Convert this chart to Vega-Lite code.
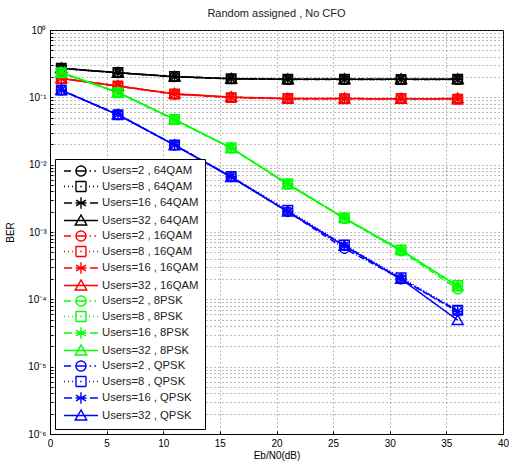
{
  "$schema": "https://vega.github.io/schema/vega-lite/v6.json",
  "width": 453,
  "height": 404,
  "autosize": "none",
  "padding": {"left": 50, "top": 30, "right": 6, "bottom": 29},
  "background": "white",
  "config": {
    "font": "Liberation Sans",
    "view": {"stroke": "black", "strokeWidth": 1},
    "axis": {
      "labelFont": "Liberation Sans",
      "titleFont": "Liberation Sans",
      "labelFontSize": 10,
      "titleFontSize": 10,
      "titleFontWeight": "normal",
      "labelColor": "black",
      "titleColor": "black",
      "domainColor": "black",
      "tickColor": "black",
      "gridColor": "#555",
      "gridDash": [1, 3],
      "gridWidth": 1,
      "gridOpacity": 0.8,
      "ticks": true,
      "tickSize": -3
    },
    "legend": {
      "labelFont": "Liberation Sans",
      "labelFontSize": 11.3,
      "labelColor": "#222"
    }
  },
  "title": {
    "text": "Random assigned , No CFO",
    "fontSize": 11,
    "fontWeight": "normal",
    "font": "Liberation Sans",
    "color": "#222",
    "offset": 6
  },
  "data": {
    "values": [
      {"s": "Users=2 , 64QAM", "u": "2", "x": 1, "y": 0.268}, {"s": "Users=2 , 64QAM", "u": "2", "x": 6, "y": 0.231}, {"s": "Users=2 , 64QAM", "u": "2", "x": 11, "y": 0.202}, {"s": "Users=2 , 64QAM", "u": "2", "x": 16, "y": 0.188}, {"s": "Users=2 , 64QAM", "u": "2", "x": 21, "y": 0.184}, {"s": "Users=2 , 64QAM", "u": "2", "x": 26, "y": 0.184}, {"s": "Users=2 , 64QAM", "u": "2", "x": 31, "y": 0.185}, {"s": "Users=2 , 64QAM", "u": "2", "x": 36, "y": 0.184},
      {"s": "Users=8 , 64QAM", "u": "8", "x": 1, "y": 0.270}, {"s": "Users=8 , 64QAM", "u": "8", "x": 6, "y": 0.233}, {"s": "Users=8 , 64QAM", "u": "8", "x": 11, "y": 0.204}, {"s": "Users=8 , 64QAM", "u": "8", "x": 16, "y": 0.189}, {"s": "Users=8 , 64QAM", "u": "8", "x": 21, "y": 0.185}, {"s": "Users=8 , 64QAM", "u": "8", "x": 26, "y": 0.185}, {"s": "Users=8 , 64QAM", "u": "8", "x": 31, "y": 0.184}, {"s": "Users=8 , 64QAM", "u": "8", "x": 36, "y": 0.185},
      {"s": "Users=16 , 64QAM", "u": "16", "x": 1, "y": 0.269}, {"s": "Users=16 , 64QAM", "u": "16", "x": 6, "y": 0.232}, {"s": "Users=16 , 64QAM", "u": "16", "x": 11, "y": 0.203}, {"s": "Users=16 , 64QAM", "u": "16", "x": 16, "y": 0.190}, {"s": "Users=16 , 64QAM", "u": "16", "x": 21, "y": 0.186}, {"s": "Users=16 , 64QAM", "u": "16", "x": 26, "y": 0.185}, {"s": "Users=16 , 64QAM", "u": "16", "x": 31, "y": 0.186}, {"s": "Users=16 , 64QAM", "u": "16", "x": 36, "y": 0.185},
      {"s": "Users=32 , 64QAM", "u": "32", "x": 1, "y": 0.271}, {"s": "Users=32 , 64QAM", "u": "32", "x": 6, "y": 0.232}, {"s": "Users=32 , 64QAM", "u": "32", "x": 11, "y": 0.203}, {"s": "Users=32 , 64QAM", "u": "32", "x": 16, "y": 0.189}, {"s": "Users=32 , 64QAM", "u": "32", "x": 21, "y": 0.185}, {"s": "Users=32 , 64QAM", "u": "32", "x": 26, "y": 0.186}, {"s": "Users=32 , 64QAM", "u": "32", "x": 31, "y": 0.185}, {"s": "Users=32 , 64QAM", "u": "32", "x": 36, "y": 0.186},
      {"s": "Users=2 , 16QAM", "u": "2", "x": 1, "y": 0.190}, {"s": "Users=2 , 16QAM", "u": "2", "x": 6, "y": 0.146}, {"s": "Users=2 , 16QAM", "u": "2", "x": 11, "y": 0.111}, {"s": "Users=2 , 16QAM", "u": "2", "x": 16, "y": 0.100}, {"s": "Users=2 , 16QAM", "u": "2", "x": 21, "y": 0.095}, {"s": "Users=2 , 16QAM", "u": "2", "x": 26, "y": 0.096}, {"s": "Users=2 , 16QAM", "u": "2", "x": 31, "y": 0.095}, {"s": "Users=2 , 16QAM", "u": "2", "x": 36, "y": 0.095},
      {"s": "Users=8 , 16QAM", "u": "8", "x": 1, "y": 0.191}, {"s": "Users=8 , 16QAM", "u": "8", "x": 6, "y": 0.147}, {"s": "Users=8 , 16QAM", "u": "8", "x": 11, "y": 0.112}, {"s": "Users=8 , 16QAM", "u": "8", "x": 16, "y": 0.099}, {"s": "Users=8 , 16QAM", "u": "8", "x": 21, "y": 0.096}, {"s": "Users=8 , 16QAM", "u": "8", "x": 26, "y": 0.095}, {"s": "Users=8 , 16QAM", "u": "8", "x": 31, "y": 0.096}, {"s": "Users=8 , 16QAM", "u": "8", "x": 36, "y": 0.094},
      {"s": "Users=16 , 16QAM", "u": "16", "x": 1, "y": 0.192}, {"s": "Users=16 , 16QAM", "u": "16", "x": 6, "y": 0.148}, {"s": "Users=16 , 16QAM", "u": "16", "x": 11, "y": 0.112}, {"s": "Users=16 , 16QAM", "u": "16", "x": 16, "y": 0.100}, {"s": "Users=16 , 16QAM", "u": "16", "x": 21, "y": 0.095}, {"s": "Users=16 , 16QAM", "u": "16", "x": 26, "y": 0.095}, {"s": "Users=16 , 16QAM", "u": "16", "x": 31, "y": 0.095}, {"s": "Users=16 , 16QAM", "u": "16", "x": 36, "y": 0.095},
      {"s": "Users=32 , 16QAM", "u": "32", "x": 1, "y": 0.190}, {"s": "Users=32 , 16QAM", "u": "32", "x": 6, "y": 0.147}, {"s": "Users=32 , 16QAM", "u": "32", "x": 11, "y": 0.113}, {"s": "Users=32 , 16QAM", "u": "32", "x": 16, "y": 0.101}, {"s": "Users=32 , 16QAM", "u": "32", "x": 21, "y": 0.096}, {"s": "Users=32 , 16QAM", "u": "32", "x": 26, "y": 0.096}, {"s": "Users=32 , 16QAM", "u": "32", "x": 31, "y": 0.095}, {"s": "Users=32 , 16QAM", "u": "32", "x": 36, "y": 0.096},
      {"s": "Users=2 , 8PSK", "u": "2", "x": 1, "y": 0.231}, {"s": "Users=2 , 8PSK", "u": "2", "x": 6, "y": 0.118}, {"s": "Users=2 , 8PSK", "u": "2", "x": 11, "y": 0.047}, {"s": "Users=2 , 8PSK", "u": "2", "x": 16, "y": 0.0176}, {"s": "Users=2 , 8PSK", "u": "2", "x": 21, "y": 0.0051}, {"s": "Users=2 , 8PSK", "u": "2", "x": 26, "y": 0.00158}, {"s": "Users=2 , 8PSK", "u": "2", "x": 31, "y": 0.00052}, {"s": "Users=2 , 8PSK", "u": "2", "x": 36, "y": 0.000142},
      {"s": "Users=8 , 8PSK", "u": "8", "x": 1, "y": 0.232}, {"s": "Users=8 , 8PSK", "u": "8", "x": 6, "y": 0.117}, {"s": "Users=8 , 8PSK", "u": "8", "x": 11, "y": 0.047}, {"s": "Users=8 , 8PSK", "u": "8", "x": 16, "y": 0.0178}, {"s": "Users=8 , 8PSK", "u": "8", "x": 21, "y": 0.0052}, {"s": "Users=8 , 8PSK", "u": "8", "x": 26, "y": 0.00162}, {"s": "Users=8 , 8PSK", "u": "8", "x": 31, "y": 0.00054}, {"s": "Users=8 , 8PSK", "u": "8", "x": 36, "y": 0.000160},
      {"s": "Users=16 , 8PSK", "u": "16", "x": 1, "y": 0.233}, {"s": "Users=16 , 8PSK", "u": "16", "x": 6, "y": 0.118}, {"s": "Users=16 , 8PSK", "u": "16", "x": 11, "y": 0.046}, {"s": "Users=16 , 8PSK", "u": "16", "x": 16, "y": 0.0177}, {"s": "Users=16 , 8PSK", "u": "16", "x": 21, "y": 0.0052}, {"s": "Users=16 , 8PSK", "u": "16", "x": 26, "y": 0.00160}, {"s": "Users=16 , 8PSK", "u": "16", "x": 31, "y": 0.00053}, {"s": "Users=16 , 8PSK", "u": "16", "x": 36, "y": 0.000158},
      {"s": "Users=32 , 8PSK", "u": "32", "x": 1, "y": 0.232}, {"s": "Users=32 , 8PSK", "u": "32", "x": 6, "y": 0.119}, {"s": "Users=32 , 8PSK", "u": "32", "x": 11, "y": 0.047}, {"s": "Users=32 , 8PSK", "u": "32", "x": 16, "y": 0.0176}, {"s": "Users=32 , 8PSK", "u": "32", "x": 21, "y": 0.0051}, {"s": "Users=32 , 8PSK", "u": "32", "x": 26, "y": 0.00161}, {"s": "Users=32 , 8PSK", "u": "32", "x": 31, "y": 0.00054}, {"s": "Users=32 , 8PSK", "u": "32", "x": 36, "y": 0.000155},
      {"s": "Users=2 , QPSK", "u": "2", "x": 1, "y": 0.128}, {"s": "Users=2 , QPSK", "u": "2", "x": 6, "y": 0.055}, {"s": "Users=2 , QPSK", "u": "2", "x": 11, "y": 0.0195}, {"s": "Users=2 , QPSK", "u": "2", "x": 16, "y": 0.0066}, {"s": "Users=2 , QPSK", "u": "2", "x": 21, "y": 0.0020}, {"s": "Users=2 , QPSK", "u": "2", "x": 26, "y": 0.00057}, {"s": "Users=2 , QPSK", "u": "2", "x": 31, "y": 0.00020}, {"s": "Users=2 , QPSK", "u": "2", "x": 36, "y": 0.000068},
      {"s": "Users=8 , QPSK", "u": "8", "x": 1, "y": 0.129}, {"s": "Users=8 , QPSK", "u": "8", "x": 6, "y": 0.055}, {"s": "Users=8 , QPSK", "u": "8", "x": 11, "y": 0.0196}, {"s": "Users=8 , QPSK", "u": "8", "x": 16, "y": 0.0067}, {"s": "Users=8 , QPSK", "u": "8", "x": 21, "y": 0.0021}, {"s": "Users=8 , QPSK", "u": "8", "x": 26, "y": 0.00064}, {"s": "Users=8 , QPSK", "u": "8", "x": 31, "y": 0.00021}, {"s": "Users=8 , QPSK", "u": "8", "x": 36, "y": 0.000069},
      {"s": "Users=16 , QPSK", "u": "16", "x": 1, "y": 0.128}, {"s": "Users=16 , QPSK", "u": "16", "x": 6, "y": 0.056}, {"s": "Users=16 , QPSK", "u": "16", "x": 11, "y": 0.0197}, {"s": "Users=16 , QPSK", "u": "16", "x": 16, "y": 0.0066}, {"s": "Users=16 , QPSK", "u": "16", "x": 21, "y": 0.0020}, {"s": "Users=16 , QPSK", "u": "16", "x": 26, "y": 0.00063}, {"s": "Users=16 , QPSK", "u": "16", "x": 31, "y": 0.00020}, {"s": "Users=16 , QPSK", "u": "16", "x": 36, "y": 0.000066},
      {"s": "Users=32 , QPSK", "u": "32", "x": 1, "y": 0.127}, {"s": "Users=32 , QPSK", "u": "32", "x": 6, "y": 0.055}, {"s": "Users=32 , QPSK", "u": "32", "x": 11, "y": 0.0195}, {"s": "Users=32 , QPSK", "u": "32", "x": 16, "y": 0.0065}, {"s": "Users=32 , QPSK", "u": "32", "x": 21, "y": 0.0020}, {"s": "Users=32 , QPSK", "u": "32", "x": 26, "y": 0.00062}, {"s": "Users=32 , QPSK", "u": "32", "x": 31, "y": 0.00020}, {"s": "Users=32 , QPSK", "u": "32", "x": 36, "y": 0.000049}
    ]
  },
  "encoding": {
    "x": {
      "field": "x",
      "type": "quantitative",
      "title": "Eb/N0(dB)",
      "scale": {"domain": [0, 40], "nice": false},
      "axis": {"values": [0, 5, 10, 15, 20, 25, 30, 35, 40], "labelPadding": 7, "titlePadding": 2, "labelFlush": false}
    },
    "y": {
      "field": "y",
      "type": "quantitative",
      "title": "BER",
      "scale": {"type": "log", "domain": [0.000001, 1], "nice": false},
      "axis": {
        "values": [0.000001, 0.000002, 0.000003, 0.000004, 0.000005, 0.000006, 0.000007, 0.000008, 0.000009,
                   0.00001, 0.00002, 0.00003, 0.00004, 0.00005, 0.00006, 0.00007, 0.00008, 0.00009,
                   0.0001, 0.0002, 0.0003, 0.0004, 0.0005, 0.0006, 0.0007, 0.0008, 0.0009,
                   0.001, 0.002, 0.003, 0.004, 0.005, 0.006, 0.007, 0.008, 0.009,
                   0.01, 0.02, 0.03, 0.04, 0.05, 0.06, 0.07, 0.08, 0.09,
                   0.1, 0.2, 0.3, 0.4, 0.5, 0.6, 0.7, 0.8, 0.9, 1],
        "labelExpr": "datum.value == 1 ? '10⁰' : datum.value == 0.1 ? '10⁻¹' : datum.value == 0.01 ? '10⁻²' : datum.value == 0.001 ? '10⁻³' : datum.value == 0.0001 ? '10⁻⁴' : datum.value == 0.00001 ? '10⁻⁵' : datum.value == 0.000001 ? '10⁻⁶' : ''",
        "labelOverlap": false,
        "labelPadding": 7,
        "titlePadding": 12,
        "labelFlush": false
      }
    }
  },
  "layer": [
    {
      "mark": {"type": "line", "strokeWidth": 1.5, "clip": true},
      "encoding": {
        "detail": {"field": "s", "type": "nominal"},
        "color": {
          "field": "s", "type": "nominal", "title": null,
          "scale": {
            "domain": ["Users=2 , 64QAM", "Users=8 , 64QAM", "Users=16 , 64QAM", "Users=32 , 64QAM", "Users=2 , 16QAM", "Users=8 , 16QAM", "Users=16 , 16QAM", "Users=32 , 16QAM", "Users=2 , 8PSK", "Users=8 , 8PSK", "Users=16 , 8PSK", "Users=32 , 8PSK", "Users=2 , QPSK", "Users=8 , QPSK", "Users=16 , QPSK", "Users=32 , QPSK"],
            "range": ["#000000", "#000000", "#000000", "#000000", "#ff0000", "#ff0000", "#ff0000", "#ff0000", "#00ff00", "#00ff00", "#00ff00", "#00ff00", "#0000ff", "#0000ff", "#0000ff", "#0000ff"]
          },
          "legend": {
            "orient": "bottom-left",
            "offset": 5,
            "padding": 6,
            "strokeColor": "black",
            "fillColor": "white",
            "symbolSize": 100,
            "symbolStrokeWidth": 1.4,
            "symbolOffset": 14,
            "labelOffset": 15,
            "rowPadding": -0.5,
            "symbolLimit": 0,
            "encode": {
              "symbols": {
                "update": {
                  "shape": {"signal": "indexof(datum.value, 'Users=2 ') == 0 ? 'M-3.4,0L-2,0M-1,0L1,0M1.7,0L2,0M2.7,0L3,0M-1,0A1,1 0 1,1 1,0A1,1 0 1,1 -1,0' : indexof(datum.value, 'Users=8 ') == 0 ? 'M-3.4,0L-3.2,0M-2.6,0L-2.4,0M-1.8,0L-1.6,0M-0.15,0L0.15,0M1.6,0L1.8,0M2.4,0L2.6,0M3.2,0L3.4,0M-1,-1L1,-1L1,1L-1,1Z' : indexof(datum.value, 'Users=16') == 0 ? 'M-3.4,0L-1.8,0M-1.1,0L1.1,0M1.8,0L3.4,0M0,-1.15L0,1.15M-1,-0.58L1,0.58M-1,0.58L1,-0.58' : 'M-3.4,0L3.4,0M0,-1.1L1.15,0.9L-1.15,0.9Z'"},
                  "strokeDash": {"value": [1, 0]},
                  "fill": {"value": "transparent"},
                  "strokeWidth": {"value": 1.4}
                }
              }
            }
          }
        },
        "strokeDash": {
          "field": "u", "type": "nominal", "legend": null,
          "scale": {
            "domain": ["2", "8", "16", "32"],
            "range": [[6, 2, 1, 2], [1, 2], [6, 3], [1, 0]]
          }
        }
      }
    },
    {
      "mark": {"type": "point", "filled": false, "size": 90, "strokeWidth": 1.5, "opacity": 1, "clip": true},
      "encoding": {
        "color": {"field": "s", "type": "nominal", "title": null},
        "shape": {
          "field": "u", "type": "nominal", "legend": null,
          "scale": {
            "domain": ["2", "8", "16", "32"],
            "range": ["circle", "square", "M0,-1.1L0,1.1M-1.1,0L1.1,0M-0.8,-0.8L0.8,0.8M-0.8,0.8L0.8,-0.8", "M0,-1.1L1.15,0.9L-1.15,0.9Z"]
          }
        }
      }
    }
  ]
}
